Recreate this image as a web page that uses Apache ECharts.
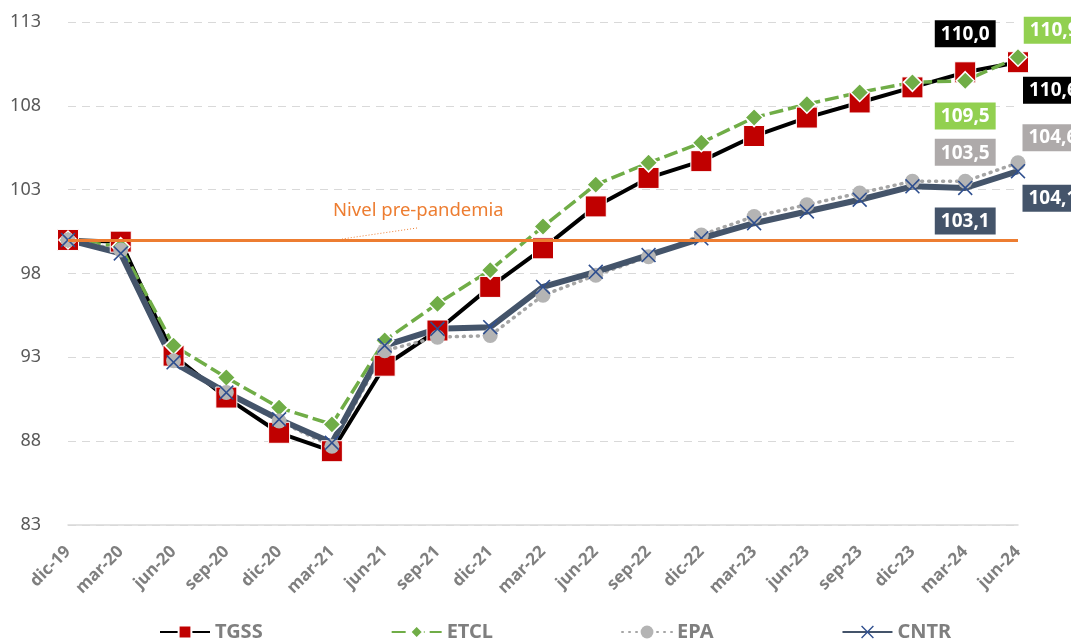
<!DOCTYPE html>
<html>
<head>
<meta charset="utf-8">
<script src="https://cdn.jsdelivr.net/npm/echarts@6/dist/echarts.min.js"></script>
<style>
  html, body {margin: 0; padding: 0; background: #fff;}
  #chartBox {width: 1071px; height: 644px;}
</style>
</head>
<body>
<div id="chartBox"></div>
<script>
var _categories = ['dic-19', 'mar-20', 'jun-20', 'sep-20', 'dic-20', 'mar-21', 'jun-21', 'sep-21', 'dic-21',
    'mar-22', 'jun-22', 'sep-22', 'dic-22', 'mar-23', 'jun-23', 'sep-23', 'dic-23', 'mar-24', 'jun-24'];
var _tgss = [100, 99.9, 93.1, 90.6, 88.5, 87.4, 92.5, 94.6, 97.2, 99.5, 102.0, 103.7, 104.7, 106.2, 107.3, 108.2, 109.1, 110.0, 110.6];
var _etcl = [100, 99.6, 93.7, 91.8, 90.0, 89.0, 94.0, 96.2, 98.2, 100.8, 103.3, 104.6, 105.8, 107.3, 108.1, 108.8, 109.4, 109.5, 110.9];
var _epa  = [100, 99.4, 92.8, 90.9, 89.2, 87.7, 93.4, 94.2, 94.3, 96.7, 97.9, 99.0, 100.3, 101.4, 102.1, 102.8, 103.5, 103.5, 104.6];
var _cntr = [100, 99.2, 92.7, 90.9, 89.3, 87.9, 93.7, 94.7, 94.8, 97.2, 98.1, 99.1, 100.1, 101.0, 101.7, 102.4, 103.2, 103.1, 104.1];
var _preLevel = 100;

var _font = '"Noto Sans", "Open Sans", sans-serif';

function fmt(v){
    return v.toFixed(1).replace('.', ',');
}

// etiquetas en los dos últimos puntos
function buildData(list, bg, lastLabel, prevLabel){
    var _result = [];
    for(var i = 0; i < list.length; i++){
        var _item = {value: list[i]};
        var _cfg = i == list.length - 1 ? lastLabel : (i == list.length - 2 ? prevLabel : null);
        if(_cfg){
            _item.label = Object.assign({
                show: true,
                formatter: function(p){ return fmt(p.value); },
                color: '#fff',
                fontWeight: 'bold',
                fontSize: 19,
                fontFamily: _font,
                backgroundColor: bg,
                padding: [5, 6, 3, 6]
            }, _cfg);
        }
        _result.push(_item);
    }
    return _result;
}

var _xSymbol = 'path://M0,1.2L1.2,0L8,6.8L14.8,0L16,1.2L9.2,8L16,14.8L14.8,16L8,9.2L1.2,16L0,14.8L6.8,8Z';

var _chart = echarts.init(document.getElementById('chartBox'));
_chart.setOption({
    animation: false,
    grid: {left: 68, right: 53, top: 22, bottom: 119},
    legend: {
        top: 617,
        left: 154,
        itemGap: 128,
        itemWidth: 50,
        itemHeight: 16,
        textStyle: {color: '#7f7f7f', fontWeight: 'bold', fontSize: 20, fontFamily: _font}
    },
    xAxis: {
        type: 'category',
        data: _categories,
        boundaryGap: false,
        axisLine: {lineStyle: {color: '#d9d9d9', width: 1.5}},
        axisTick: {show: false},
        axisLabel: {
            rotate: 45,
            color: '#7f7f7f',
            fontSize: 17,
            fontWeight: 'bold',
            fontFamily: _font,
            margin: 24
        }
    },
    yAxis: {
        type: 'value',
        min: 83,
        max: 113,
        interval: 5,
        axisLine: {show: false},
        axisTick: {show: false},
        axisLabel: {color: '#595959', fontSize: 18, fontFamily: _font, margin: 27},
        splitLine: {lineStyle: {color: '#d9d9d9', type: [8, 6], width: 1.2}}
    },
    graphic: [
        {
            type: 'text',
            left: 333,
            top: 201,
            style: {text: 'Nivel pre-pandemia', fill: '#ed7d31', fontSize: 18.5, fontFamily: _font}
        },
        {
            type: 'line',
            shape: {x1: 417, y1: 228, x2: 342, y2: 239},
            style: {stroke: '#ed7d31', lineWidth: 1, lineDash: [1, 2]}
        }
    ],
    series: [
        {
            name: 'TGSS',
            type: 'line',
            data: buildData(_tgss, '#000000',
                {position: 'right', distance: -6, offset: [0, 28]},
                {position: 'top', distance: 14}),
            lineStyle: {color: '#000000', width: 4},
            itemStyle: {color: '#c00000', borderColor: '#ffffff', borderWidth: 1},
            symbol: 'rect',
            symbolSize: 21,
            showAllSymbol: true
        },
        {
            name: 'ETCL',
            type: 'line',
            data: buildData(_etcl, '#92d050',
                {position: 'right', distance: -4, offset: [0, -27]},
                {position: 'bottom', distance: 12}),
            lineStyle: {color: '#70ad47', width: 3.5, type: [14, 5]},
            itemStyle: {color: '#70ad47', borderColor: '#ffffff', borderWidth: 1.5},
            symbol: 'diamond',
            symbolSize: 18,
            showAllSymbol: true
        },
        {
            name: 'EPA',
            type: 'line',
            data: buildData(_epa, '#aeaaaa',
                {position: 'right', distance: -3, offset: [0, -25]},
                {position: 'top', distance: 8}),
            lineStyle: {color: '#a5a5a5', width: 3.5, type: [1, 6], cap: 'round'},
            itemStyle: {color: '#b4b4b4'},
            symbol: 'circle',
            symbolSize: 15,
            showAllSymbol: true
        },
        {
            name: 'CNTR',
            type: 'line',
            data: buildData(_cntr, '#44546a',
                {position: 'right', distance: -3, offset: [0, 27]},
                {position: 'bottom', distance: 12}),
            lineStyle: {color: '#44546a', width: 6},
            itemStyle: {color: '#2f4f8f'},
            symbol: _xSymbol,
            symbolSize: 15,
            showAllSymbol: true,
            markLine: {
                silent: true,
                symbol: 'none',
                label: {show: false},
                lineStyle: {color: '#ed7d31', width: 3, type: 'solid'},
                data: [{yAxis: _preLevel}]
            }
        }
    ]
});
</script>
</body>
</html>
